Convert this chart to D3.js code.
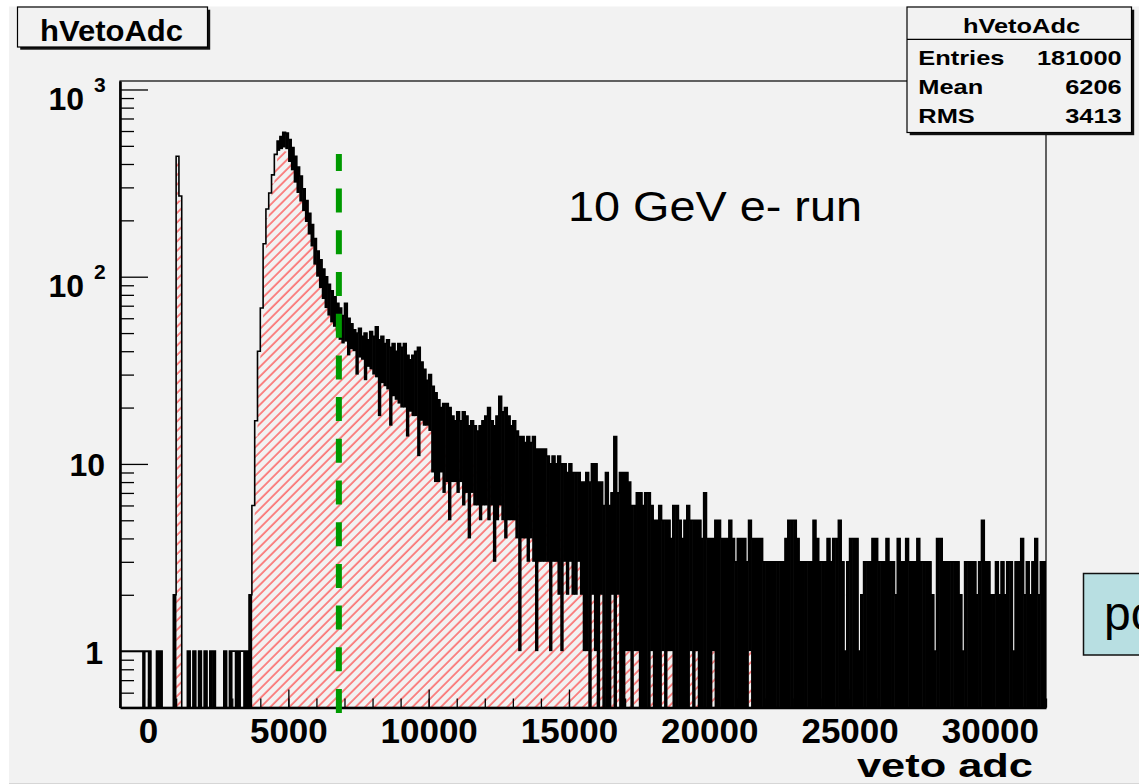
<!DOCTYPE html>
<html lang="en">
<head>
<meta charset="UTF-8" />
<title>hVetoAdc</title>
<style>
  body { margin: 0; background: #fff; }
  svg { display: block; }
  svg text { font-family: "Liberation Sans", Arial, Helvetica, sans-serif; }
</style>
</head>
<body>
<svg width="1139" height="784" id="svg"></svg>
<script src="https://cdn.jsdelivr.net/npm/d3@7/dist/d3.min.js"></script>
<script>
// histogram binning: 330 bins of 100 adc from -1000 to 32000
const adcMin = -1000;
const adcMax = 32000;
const binWidth = 100;

// black histogram (all events): top of the black trace in each 100-adc bin
const blackHi = [
  1,1,1,1,1,1,1,1,1,1,            // -1000 .. 0
  1,0,0,1,1,0,0,0,0,2,            // 0 .. 1000
  440,270,0,0,1,0,1,0,1,0,        // 1000 .. 2000
  1,0,1,1,0,0,0,1,0,1,            // 2000 .. 3000
  1,1,1,1,1,1,2,6,17,40,          // 3000 .. 4000
  68,150,230,280,350,450,530,560,590,585,
  540,490,440,385,345,295,255,218,190,160,
  137,123,110,100,91,84,78,72,68,62,
  72,60,56,52,50,53,48,50,46,51,  // 7000 .. 8000
  48,54,46,48,44,46,42,44,40,44,
  42,44,38,36,38,40,42,35,32,28,
  30,26,24,22,20,21,21,20,18,17,  // 10000 .. 11000
  19,17,19,18,16,17,16,15,16,17,
  18,20,17,16,18,23,19,20,18,16,
  17,15,14,14,13,14,13,14,12,12,
  12,12,11,10,11,10,11,10,10,9,
  10,9,9,9,8,8,9,8,10,10,         // 15000 .. 16000
  8,8,6,9,6,7,14,7,9,9,
  9,8,6,6,7,7,6,7,7,6,
  5,5,6,5,5,5,4,6,6,5,
  4,5,6,5,5,5,5,4,7,4,
  4,4,5,5,4,4,4,5,4,3,            // 20000 .. 21000
  4,4,4,3,5,4,4,4,4,3,
  3,3,3,3,3,3,3,4,5,5,
  5,4,3,3,3,3,3,5,4,3,
  3,3,4,3,4,4,5,3,1,3,
  4,4,4,1,2,3,3,3,4,4,            // 25000 .. 26000
  3,3,3,4,3,3,2,4,3,3,
  4,3,3,3,4,3,3,3,3,2,
  1,4,4,3,3,3,3,3,3,2,
  1,3,3,3,3,2,3,5,3,3,
  2,2,3,2,3,2,3,3,1,3,            // 30000 .. 31000
  3,4,2,3,2,3,4,2,3,3
];

// black histogram: lowest fluctuation inside each bin (0 = empty sub-bins down to the axis)
const blackLo = [
  1,1,1,1,1,1,1,1,0,1,
  0,0,0,0,0,0,0,0,0,0,
  440,270,0,0,0,0,0,0,0,0,
  0,0,0,0,0,0,0,0,0,0,
  1,0,0,1,0,0,0,6,17,40,
  68,150,230,280,350,450,470,480,490,480,
  410,370,318,280,252,224,196,168,145,116,
  100,87,76,68,62,57,54,51,46,44,
  45,38,41,40,30,37,36,28,33,32,
  30,29,18,27,26,25,16,23,22,21,
  20,20,14,19,18,18,11,17,16,16,
  15,9,8,8,9,7,8,5,8,8,
  7,8,6,7,4,7,6,6,5,6,
  6,5,6,3,5,6,5,4,5,5,
  5,4,1,4,4,3,4,3,1,3,
  3,3,3,1,3,3,2,1,3,2,
  3,2,2,3,2,1,1,0,2,1,
  0,2,0,0,0,2,0,2,0,0,
  1,1,0,1,1,0,0,0,0,1,
  0,0,0,1,0,1,1,0,0,0,
  0,0,0,1,0,1,0,0,0,0,
  0,1,0,0,0,0,0,0,0,0,
  0,0,0,0,1,0,0,0,0,0,
  0,0,0,0,0,0,0,0,0,0,
  0,0,0,0,0,0,0,0,0,0,
  0,0,0,0,0,0,0,0,0,0,
  0,0,0,0,0,0,0,0,0,0,
  0,0,0,0,0,0,0,0,0,0,
  0,0,0,0,0,0,0,0,0,0,
  0,0,0,0,0,0,0,0,0,0,
  0,0,0,0,0,0,0,0,0,0,
  0,0,0,0,0,0,0,0,0,0,
  0,0,0,0,0,0,0,0,0,0
];

// red hatched histogram (selected events)
const redHi = [
  0,0,0,0,0,0,0,0,0,0,
  0,0,0,0,0,0,0,0,0,1,
  420,255,0,0,0,0,0,0,0,0,
  0,0,0,0,0,0,0,0,0,0,
  0,0,0,0,0,0,0,4,14,34,
  58,130,205,250,315,400,450,460,470,465,
  420,380,340,300,270,240,210,180,155,125,
  108,94,82,74,66,62,58,55,50,47,
  45,43,41,40,38,37,36,35,33,32,
  30,29,28,27,26,25,24,23,22,21,
  20,20,19,19,18,18,17,17,16,16,
  15,15,14,14,13,13,12,12,12,12,
  11,11,11,11,10,10,10,10,9,9,
  9,9,9,8,8,8,8,7,7,7,
  7,7,6,6,6,6,6,5,5,5,
  5,5,5,4,4,4,4,4,4,3,
  3,3,3,3,3,3,2,2,2,2,
  1,2,1,1,0,2,1,2,0,1,
  1,1,0,1,1,0,0,0,0,1,
  0,0,0,1,0,1,1,0,0,0,
  0,0,0,1,0,1,0,0,0,0,
  0,1,0,0,0,0,0,0,0,0,
  0,0,0,0,1,0,0,0,0,0,
  0,0,0,0,0,0,0,0,0,0,
  0,0,0,0,0,0,0,0,0,0,
  0,0,0,0,0,0,0,0,0,0,
  0,0,0,0,0,0,0,0,0,0,
  0,0,0,0,0,0,0,0,0,0,
  0,0,0,0,0,0,0,0,0,0,
  0,0,0,0,0,0,0,0,0,0,
  0,0,0,0,0,0,0,0,0,0,
  0,0,0,0,0,0,0,0,0,0,
  0,0,0,0,0,0,0,0,0,0
];

const xTickValues = [0, 5000, 10000, 15000, 20000, 25000, 30000];
const yMajorTicks = [1, 10, 100, 1000];
const yTickLabels = ["1", "10", "10|2", "10|3"];
const cutAdc = 6800;

const histName = "hVetoAdc";
const statNames = ["Entries", "Mean", "RMS"];
const statValues = ["181000", "6206", "3413"];
const xTitle = "veto adc";
const runLabel = "10 GeV e- run";
const sideLabel = "po";

const svg = d3.select("#svg");
const frame = { left: 120, right: 1046, top: 81, bottom: 707.5 };

const x = d3.scaleLinear().domain([adcMin, adcMax]).range([frame.left, frame.right]);
const y = d3.scaleLog().domain([0.5, 1110]).range([frame.bottom, frame.top]);
const yv = v => (v > 0 ? y(v) : frame.bottom + 4);

// page background
svg.append("rect").attr("width", 1139).attr("height", 784).attr("fill", "#fff");
svg.append("rect").attr("x", 9).attr("y", 6.5).attr("width", 1130).attr("height", 776.5).attr("fill", "#f2f2f2");
svg.append("line").attr("x1", 9).attr("x2", 1139).attr("y1", 783.5).attr("y2", 783.5)
  .attr("stroke", "#d6d6d6").attr("stroke-width", 1);

const defs = svg.append("defs");
defs.append("clipPath").attr("id", "frameClip")
  .append("rect")
  .attr("x", frame.left).attr("y", frame.top)
  .attr("width", frame.right - frame.left).attr("height", frame.bottom - frame.top);

const hatch = defs.append("pattern").attr("id", "hatch")
  .attr("patternUnits", "userSpaceOnUse")
  .attr("width", 6.7).attr("height", 10)
  .attr("patternTransform", "rotate(45)");
hatch.append("line").attr("x1", 1).attr("y1", 0).attr("x2", 1).attr("y2", 10)
  .attr("stroke", "#ff2b2b").attr("stroke-width", 1.1);

// frame (thin top/right)
svg.append("rect")
  .attr("x", frame.left).attr("y", frame.top)
  .attr("width", frame.right - frame.left).attr("height", frame.bottom - frame.top)
  .attr("fill", "none").attr("stroke", "#000").attr("stroke-width", 1.2);

// bins
const bins = blackHi.map((h, i) => ({
  e: adcMin + i * binWidth,
  h: h,
  l: blackLo[i],
  r: redHi[i]
}));
const steps = bins.concat([{ e: adcMax, h: bins[bins.length - 1].h, l: 0, r: bins[bins.length - 1].r }]);

const plot = svg.append("g").attr("clip-path", "url(#frameClip)");

// red hatched histogram
plot.append("path")
  .datum(steps)
  .attr("fill", "url(#hatch)")
  .attr("d", d3.area()
    .curve(d3.curveStepAfter)
    .x(d => x(d.e))
    .y0(frame.bottom + 4)
    .y1(d => yv(d.r)));

// black fluctuation band inside each bin
plot.append("g")
  .selectAll("rect")
  .data(bins.filter(d => d.h > 0 && d.l < d.h))
  .join("rect")
  .attr("x", d => x(d.e) - 0.3)
  .attr("width", d => x(d.e + binWidth) - x(d.e) + 0.6)
  .attr("y", d => y(d.h))
  .attr("height", d => yv(d.l) - y(d.h))
  .attr("fill", "#000");

// black histogram outline
plot.append("path")
  .datum(steps)
  .attr("fill", "none")
  .attr("stroke", "#000")
  .attr("stroke-width", 1.6)
  .attr("d", d3.line()
    .curve(d3.curveStepAfter)
    .x(d => x(d.e))
    .y(d => yv(d.h)));

// axes
const fontStack = '"Liberation Sans", Arial, Helvetica, sans-serif';
const xMinor = d3.range(adcMin, adcMax + 1, 1000);
const yMinor = [0.1, 1, 10, 100]
  .flatMap(dec => [2, 3, 4, 5, 6, 7, 8, 9].map(k => k * dec))
  .filter(v => v > 0.5 && v < 1110);

const xMinorAxis = svg.append("g")
  .attr("transform", `translate(0,${frame.bottom})`)
  .call(d3.axisBottom(x).tickValues(xMinor).tickSize(-9).tickSizeOuter(0).tickFormat(""));
xMinorAxis.select(".domain").remove();

const xAxis = svg.append("g")
  .attr("transform", `translate(0,${frame.bottom})`)
  .call(d3.axisBottom(x).tickValues(xTickValues).tickSize(-18).tickSizeOuter(0)
    .tickPadding(11).tickFormat(d3.format("d")));
xAxis.attr("font-family", fontStack)
  .attr("font-size", 35)
  .attr("font-weight", "bold");
xAxis.select(".domain").attr("stroke-width", 2.6);
xAxis.selectAll("text").attr("fill", "#000");

const yMinorAxis = svg.append("g")
  .attr("transform", `translate(${frame.left},0)`)
  .call(d3.axisLeft(y).tickValues(yMinor).tickSize(-14).tickSizeOuter(0).tickFormat(""));
yMinorAxis.select(".domain").remove();

const yAxis = svg.append("g")
  .attr("transform", `translate(${frame.left},0)`)
  .call(d3.axisLeft(y).tickValues(yMajorTicks).tickSize(-28).tickSizeOuter(0).tickFormat(""));
yAxis.select(".domain").attr("stroke-width", 2.6);

svg.selectAll(".tick line").attr("stroke", "#000").attr("stroke-width", 1.3);

// y labels (powers of ten)
const yLab = svg.append("g")
  .attr("font-family", fontStack)
  .attr("font-weight", "bold")
  .attr("fill", "#000");
yMajorTicks.forEach((v, i) => {
  const parts = yTickLabels[i].split("|");
  const ty = y(v);
  if (parts.length === 1) {
    yLab.append("text")
      .attr("x", v < 10 ? 103 : 105).attr("y", ty + 12.5)
      .attr("text-anchor", "end").attr("font-size", 32)
      .text(parts[0]);
  } else {
    yLab.append("text")
      .attr("x", 84).attr("y", ty + 20.6)
      .attr("text-anchor", "end").attr("font-size", 32)
      .text(parts[0]);
    yLab.append("text")
      .attr("x", 94).attr("y", ty + 2.4)
      .attr("font-size", 21)
      .text(parts[1]);
  }
});

// x axis title
svg.append("text")
  .attr("x", 857).attr("y", 777)
  .attr("font-size", 34).attr("font-weight", "bold")
  .attr("textLength", 176).attr("lengthAdjust", "spacingAndGlyphs")
  .text(xTitle);

// run label
svg.append("text")
  .attr("x", 568).attr("y", 221)
  .attr("font-size", 42)
  .attr("textLength", 294).attr("lengthAdjust", "spacingAndGlyphs")
  .text(runLabel);

// cut line
svg.append("line")
  .attr("x1", x(cutAdc)).attr("x2", x(cutAdc))
  .attr("y1", 713).attr("y2", 154)
  .attr("stroke", "#009a00").attr("stroke-width", 6)
  .attr("stroke-dasharray", "24 17.7");

// boxes with shadow
function paveBox(bx, by, bw, bh) {
  svg.append("rect").attr("x", bx + 2.7).attr("y", by + 2.7)
    .attr("width", bw).attr("height", bh).attr("fill", "#111");
  svg.append("rect").attr("x", bx).attr("y", by)
    .attr("width", bw).attr("height", bh)
    .attr("fill", "#f2f2f2").attr("stroke", "#000").attr("stroke-width", 1.2);
}

// title box
paveBox(17.5, 7, 190, 40);
svg.append("text")
  .attr("x", 40).attr("y", 40.7)
  .attr("font-size", 29).attr("font-weight", "bold")
  .attr("textLength", 143).attr("lengthAdjust", "spacingAndGlyphs")
  .text(histName);

// stats box
paveBox(907, 7, 224.5, 125.5);
svg.append("line").attr("x1", 907).attr("x2", 1131.5).attr("y1", 39.3).attr("y2", 39.3)
  .attr("stroke", "#000").attr("stroke-width", 1.2);

const stretch = 1.21;
function statText(str, xPos, base, anchorEnd) {
  const t = svg.append("text")
    .attr("y", base).attr("font-size", 21).attr("font-weight", "bold")
    .text(str);
  const w = t.node().getComputedTextLength() * stretch;
  t.attr("textLength", w).attr("lengthAdjust", "spacingAndGlyphs")
    .attr("x", anchorEnd ? xPos - w : xPos);
  return t;
}
{
  const t = svg.append("text").attr("font-size", 21).attr("font-weight", "bold").text(histName);
  const w = t.node().getComputedTextLength() * stretch;
  t.attr("x", 1021.5 - w / 2).attr("y", 33.3)
    .attr("textLength", w).attr("lengthAdjust", "spacingAndGlyphs");
}
const rowBase = [65, 94.3, 123.3];
statNames.forEach((n, i) => {
  statText(n, 918.3, rowBase[i], false);
  statText(statValues[i], 1121.7, rowBase[i], true);
});

// side box (cut off at the page edge)
svg.append("rect")
  .attr("x", 1083.5).attr("y", 573.5).attr("width", 80).attr("height", 81.5)
  .attr("fill", "#b8dfe2").attr("stroke", "#111").attr("stroke-width", 1.5);
svg.append("text")
  .attr("x", 1104).attr("y", 630)
  .attr("font-size", 48)
  .text(sideLabel);
</script>
</body>
</html>
